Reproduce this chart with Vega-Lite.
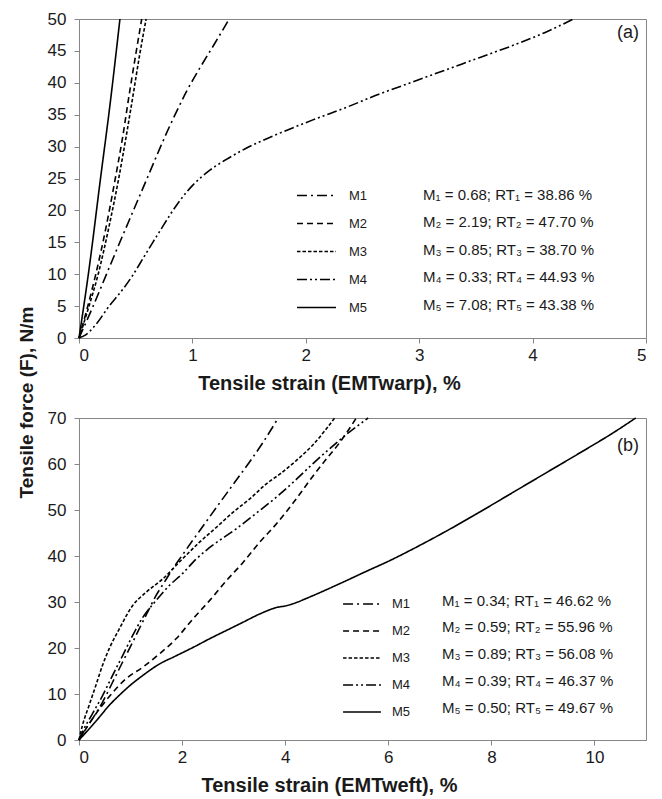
{
  "$schema": "https://vega.github.io/schema/vega-lite/v6.json",
  "background": "white",
  "padding": {"left": 17, "top": 9, "right": 2, "bottom": 0},
  "bounds": "flush",
  "spacing": 80,
  "config": {
    "font": "Liberation Sans",
    "view": {"stroke": "#868686", "strokeWidth": 1},
    "axis": {
      "domainColor": "#868686", "tickColor": "#868686", "tickSize": 5, "labelOverlap": false, "format": "d",
      "labelFont": "Liberation Sans", "labelFontSize": 17, "labelColor": "#1a1a1a",
      "titleFont": "Liberation Sans", "titleFontSize": 20, "titleFontWeight": "bold", "titleColor": "#1a1a1a",
      "grid": false
    },
    "legend": {"labelFont": "Liberation Sans", "labelColor": "#1a1a1a", "labelLimit": 0}
  },
  "title": {"text": "Tensile force (F), N/m", "orient": "left", "anchor": "middle", "fontSize": 19, "fontWeight": "bold", "color": "#1a1a1a", "font": "Liberation Sans", "offset": 10},
  "datasets": {
    "statsA": [
      {"series": "M1", "stat": "M₁ = 0.68; RT₁ = 38.86 %"},
      {"series": "M2", "stat": "M₂ = 2.19; RT₂ = 47.70 %"},
      {"series": "M3", "stat": "M₃ = 0.85; RT₃ = 38.70 %"},
      {"series": "M4", "stat": "M₄ = 0.33; RT₄ = 44.93 %"},
      {"series": "M5", "stat": "M₅ = 7.08; RT₅ = 43.38 %"}
    ],
    "statsB": [
      {"series": "M1", "stat": "M₁ = 0.34; RT₁ = 46.62 %"},
      {"series": "M2", "stat": "M₂ = 0.59; RT₂ = 55.96 %"},
      {"series": "M3", "stat": "M₃ = 0.89; RT₃ = 56.08 %"},
      {"series": "M4", "stat": "M₄ = 0.39; RT₄ = 46.37 %"},
      {"series": "M5", "stat": "M₅ = 0.50; RT₅ = 49.67 %"}
    ],
    "warp": [
      {"series": "M1", "strain": 0, "force": 0},
      {"series": "M1", "strain": 0.12, "force": 4.8},
      {"series": "M1", "strain": 0.24, "force": 9.9},
      {"series": "M1", "strain": 0.36, "force": 15},
      {"series": "M1", "strain": 0.48, "force": 20},
      {"series": "M1", "strain": 0.6, "force": 25},
      {"series": "M1", "strain": 0.71, "force": 29.6},
      {"series": "M1", "strain": 0.784, "force": 32.6},
      {"series": "M1", "strain": 0.858, "force": 35.4},
      {"series": "M1", "strain": 0.947, "force": 38.6},
      {"series": "M1", "strain": 1.065, "force": 42.3},
      {"series": "M1", "strain": 1.198, "force": 46.2},
      {"series": "M1", "strain": 1.325, "force": 50},
      {"series": "M2", "strain": 0, "force": 0},
      {"series": "M2", "strain": 0.07, "force": 4.5},
      {"series": "M2", "strain": 0.148, "force": 10},
      {"series": "M2", "strain": 0.24, "force": 17.5},
      {"series": "M2", "strain": 0.32, "force": 25},
      {"series": "M2", "strain": 0.385, "force": 31.5},
      {"series": "M2", "strain": 0.444, "force": 38.3},
      {"series": "M2", "strain": 0.5, "force": 44.4},
      {"series": "M2", "strain": 0.553, "force": 50},
      {"series": "M3", "strain": 0, "force": 0},
      {"series": "M3", "strain": 0.08, "force": 4.5},
      {"series": "M3", "strain": 0.169, "force": 10},
      {"series": "M3", "strain": 0.265, "force": 17.5},
      {"series": "M3", "strain": 0.35, "force": 25},
      {"series": "M3", "strain": 0.415, "force": 31.5},
      {"series": "M3", "strain": 0.479, "force": 38.3},
      {"series": "M3", "strain": 0.535, "force": 44.4},
      {"series": "M3", "strain": 0.592, "force": 50},
      {"series": "M4", "strain": 0, "force": 0},
      {"series": "M4", "strain": 0.059, "force": 0.5},
      {"series": "M4", "strain": 0.148, "force": 2.1},
      {"series": "M4", "strain": 0.266, "force": 5},
      {"series": "M4", "strain": 0.385, "force": 7.6},
      {"series": "M4", "strain": 0.473, "force": 9.8},
      {"series": "M4", "strain": 0.562, "force": 12.4},
      {"series": "M4", "strain": 0.651, "force": 15},
      {"series": "M4", "strain": 0.725, "force": 17.1},
      {"series": "M4", "strain": 0.799, "force": 19.2},
      {"series": "M4", "strain": 0.888, "force": 21.5},
      {"series": "M4", "strain": 1.006, "force": 24.0},
      {"series": "M4", "strain": 1.154, "force": 26.3},
      {"series": "M4", "strain": 1.3, "force": 28.0},
      {"series": "M4", "strain": 1.47, "force": 29.7},
      {"series": "M4", "strain": 1.763, "force": 32.05},
      {"series": "M4", "strain": 2.057, "force": 34.15},
      {"series": "M4", "strain": 2.35, "force": 36.1},
      {"series": "M4", "strain": 2.644, "force": 38.2},
      {"series": "M4", "strain": 2.937, "force": 40.1},
      {"series": "M4", "strain": 3.231, "force": 42.0},
      {"series": "M4", "strain": 3.524, "force": 43.9},
      {"series": "M4", "strain": 3.818, "force": 45.8},
      {"series": "M4", "strain": 4.111, "force": 47.9},
      {"series": "M4", "strain": 4.36, "force": 50},
      {"series": "M5", "strain": 0, "force": 0},
      {"series": "M5", "strain": 0.09, "force": 11},
      {"series": "M5", "strain": 0.186, "force": 24.5},
      {"series": "M5", "strain": 0.275, "force": 36.8},
      {"series": "M5", "strain": 0.361, "force": 50}
    ],
    "weft": [
      {"series": "M1", "strain": 0, "force": 0},
      {"series": "M1", "strain": 0.065, "force": 1.3},
      {"series": "M1", "strain": 0.26, "force": 4.6},
      {"series": "M1", "strain": 0.455, "force": 8.2},
      {"series": "M1", "strain": 0.649, "force": 12.5},
      {"series": "M1", "strain": 0.844, "force": 16.9},
      {"series": "M1", "strain": 1.039, "force": 21.2},
      {"series": "M1", "strain": 1.201, "force": 24.9},
      {"series": "M1", "strain": 1.331, "force": 27.8},
      {"series": "M1", "strain": 1.494, "force": 31.4},
      {"series": "M1", "strain": 1.656, "force": 34.3},
      {"series": "M1", "strain": 1.818, "force": 37.2},
      {"series": "M1", "strain": 2.0, "force": 40.1},
      {"series": "M1", "strain": 2.2, "force": 43.3},
      {"series": "M1", "strain": 2.4, "force": 46.4},
      {"series": "M1", "strain": 2.662, "force": 50.5},
      {"series": "M1", "strain": 2.987, "force": 55.5},
      {"series": "M1", "strain": 3.312, "force": 60.5},
      {"series": "M1", "strain": 3.571, "force": 64.7},
      {"series": "M1", "strain": 3.864, "force": 70},
      {"series": "M2", "strain": 0, "force": 0},
      {"series": "M2", "strain": 0.065, "force": 1.2},
      {"series": "M2", "strain": 0.26, "force": 4.6},
      {"series": "M2", "strain": 0.584, "force": 9.4},
      {"series": "M2", "strain": 0.909, "force": 13.3},
      {"series": "M2", "strain": 1.234, "force": 15.8},
      {"series": "M2", "strain": 1.558, "force": 18.7},
      {"series": "M2", "strain": 1.883, "force": 22.0},
      {"series": "M2", "strain": 2.208, "force": 26.3},
      {"series": "M2", "strain": 2.532, "force": 30.3},
      {"series": "M2", "strain": 2.857, "force": 34.6},
      {"series": "M2", "strain": 3.182, "force": 38.6},
      {"series": "M2", "strain": 3.506, "force": 43.0},
      {"series": "M2", "strain": 3.831, "force": 47.0},
      {"series": "M2", "strain": 4.22, "force": 52.5},
      {"series": "M2", "strain": 4.5, "force": 56.8},
      {"series": "M2", "strain": 4.8, "force": 61.1},
      {"series": "M2", "strain": 5.06, "force": 64.7},
      {"series": "M2", "strain": 5.38, "force": 70},
      {"series": "M3", "strain": 0, "force": 0},
      {"series": "M3", "strain": 0.065, "force": 3.1},
      {"series": "M3", "strain": 0.195, "force": 7.5},
      {"series": "M3", "strain": 0.325, "force": 11.8},
      {"series": "M3", "strain": 0.455, "force": 16.2},
      {"series": "M3", "strain": 0.584, "force": 19.8},
      {"series": "M3", "strain": 0.779, "force": 24.1},
      {"series": "M3", "strain": 1.039, "force": 29.2},
      {"series": "M3", "strain": 1.299, "force": 32.1},
      {"series": "M3", "strain": 1.623, "force": 35.0},
      {"series": "M3", "strain": 2.0, "force": 39.3},
      {"series": "M3", "strain": 2.338, "force": 43.0},
      {"series": "M3", "strain": 2.662, "force": 46.2},
      {"series": "M3", "strain": 2.987, "force": 49.5},
      {"series": "M3", "strain": 3.312, "force": 52.4},
      {"series": "M3", "strain": 3.636, "force": 55.7},
      {"series": "M3", "strain": 3.896, "force": 57.8},
      {"series": "M3", "strain": 4.22, "force": 60.8},
      {"series": "M3", "strain": 4.54, "force": 64.2},
      {"series": "M3", "strain": 4.96, "force": 70},
      {"series": "M4", "strain": 0, "force": 0},
      {"series": "M4", "strain": 0.065, "force": 1.7},
      {"series": "M4", "strain": 0.26, "force": 5.7},
      {"series": "M4", "strain": 0.455, "force": 9.6},
      {"series": "M4", "strain": 0.649, "force": 14},
      {"series": "M4", "strain": 0.844, "force": 18.3},
      {"series": "M4", "strain": 1.039, "force": 22.7},
      {"series": "M4", "strain": 1.234, "force": 26.6},
      {"series": "M4", "strain": 1.494, "force": 30.3},
      {"series": "M4", "strain": 1.753, "force": 33.6},
      {"series": "M4", "strain": 2.0, "force": 36.1},
      {"series": "M4", "strain": 2.27, "force": 39.3},
      {"series": "M4", "strain": 2.53, "force": 41.8},
      {"series": "M4", "strain": 3.05, "force": 45.9},
      {"series": "M4", "strain": 3.45, "force": 49.4},
      {"series": "M4", "strain": 3.83, "force": 52.8},
      {"series": "M4", "strain": 4.22, "force": 56.7},
      {"series": "M4", "strain": 4.55, "force": 60.2},
      {"series": "M4", "strain": 4.86, "force": 63.3},
      {"series": "M4", "strain": 5.12, "force": 65.8},
      {"series": "M4", "strain": 5.61, "force": 70},
      {"series": "M5", "strain": 0, "force": 0},
      {"series": "M5", "strain": 0.195, "force": 2.4},
      {"series": "M5", "strain": 0.39, "force": 4.9},
      {"series": "M5", "strain": 0.584, "force": 7.5},
      {"series": "M5", "strain": 0.779, "force": 9.7},
      {"series": "M5", "strain": 0.974, "force": 11.7},
      {"series": "M5", "strain": 1.234, "force": 14.0},
      {"series": "M5", "strain": 1.558, "force": 16.5},
      {"series": "M5", "strain": 1.883, "force": 18.3},
      {"series": "M5", "strain": 2.208, "force": 20.1},
      {"series": "M5", "strain": 2.532, "force": 22.0},
      {"series": "M5", "strain": 2.857, "force": 23.8},
      {"series": "M5", "strain": 3.182, "force": 25.6},
      {"series": "M5", "strain": 3.506, "force": 27.4},
      {"series": "M5", "strain": 3.831, "force": 28.8},
      {"series": "M5", "strain": 4.026, "force": 29.2},
      {"series": "M5", "strain": 4.221, "force": 29.9},
      {"series": "M5", "strain": 4.416, "force": 30.8},
      {"series": "M5", "strain": 5.12, "force": 34.3},
      {"series": "M5", "strain": 5.58, "force": 36.7},
      {"series": "M5", "strain": 6.03, "force": 39.0},
      {"series": "M5", "strain": 6.49, "force": 41.6},
      {"series": "M5", "strain": 7.14, "force": 45.5},
      {"series": "M5", "strain": 7.78, "force": 49.6},
      {"series": "M5", "strain": 8.43, "force": 53.9},
      {"series": "M5", "strain": 9.08, "force": 58.2},
      {"series": "M5", "strain": 9.73, "force": 62.5},
      {"series": "M5", "strain": 10.38, "force": 66.9},
      {"series": "M5", "strain": 10.8, "force": 70}
    ]
  },
  "vconcat": [
    {
      "width": 567,
      "height": 319,
      "layer": [
        {
          "data": {"name": "warp"},
          "transform": [{"lookup": "series", "from": {"data": {"name": "statsA"}, "key": "series", "fields": ["stat"]}}],
          "mark": {"type": "line", "interpolate": "monotone", "strokeWidth": 1.6},
          "encoding": {
            "x": {"field": "strain", "type": "quantitative", "scale": {"domain": [0, 5], "nice": false},
                  "axis": {"values": [0, 1, 2, 3, 4, 5], "labelPadding": 4, "title": "Tensile strain (EMTwarp), %", "titleX": 250, "titleY": 35, "titleBaseline": "top", "titleAlign": "center"}},
            "y": {"field": "force", "type": "quantitative", "scale": {"domain": [0, 50], "nice": false},
                  "axis": {"values": [0, 5, 10, 15, 20, 25, 30, 35, 40, 45, 50], "labelPadding": 8, "title": null}},
            "strokeDash": {"field": "series", "type": "nominal",
                  "scale": {"domain": ["M1", "M2", "M3", "M4", "M5"], "range": [[10, 4, 2, 4], [6, 4], [3.5, 2], [10, 3, 2, 3, 2, 3], [1, 0]]},
                  "legend": {"orient": "none", "legendX": 217, "legendY": 156, "title": null, "symbolType": "stroke", "symbolSize": 1524, "symbolStrokeWidth": 1.5, "symbolStrokeColor": "black", "labelFontSize": 13, "labelOffset": 12, "padding": 0, "rowPadding": 0}},
            "color": {"field": "stat", "type": "nominal", "scale": {"range": ["#000000", "#000000", "#000000", "#000000", "#000000"]},
                  "legend": {"orient": "none", "legendX": 329, "legendY": 168, "title": null, "symbolType": "stroke", "symbolSize": 1, "symbolOpacity": 0, "symbolStrokeWidth": 0, "labelFontSize": 15, "labelOffset": 0, "padding": 0, "rowPadding": 11.6}}
          }
        },
        {
          "data": {"values": [{"label": "(a)"}]},
          "mark": {"type": "text", "align": "right", "baseline": "top", "dx": -7, "dy": 5, "fontSize": 18, "font": "Liberation Sans", "color": "#1a1a1a"},
          "encoding": {
            "x": {"datum": 5, "type": "quantitative", "axis": {"values": [0, 1, 2, 3, 4, 5], "labelPadding": 4, "title": "Tensile strain (EMTwarp), %", "titleX": 250, "titleY": 35, "titleBaseline": "top", "titleAlign": "center"}},
            "y": {"datum": 50, "type": "quantitative", "axis": {"values": [0, 5, 10, 15, 20, 25, 30, 35, 40, 45, 50], "labelPadding": 8, "title": null}},
            "text": {"field": "label"}
          }
        }
      ]
    },
    {
      "width": 567,
      "height": 322,
      "layer": [
        {
          "data": {"name": "weft"},
          "transform": [{"lookup": "series", "from": {"data": {"name": "statsB"}, "key": "series", "fields": ["stat"]}}],
          "mark": {"type": "line", "interpolate": "monotone", "strokeWidth": 1.6},
          "encoding": {
            "x": {"field": "strain", "type": "quantitative", "scale": {"domain": [0, 11], "nice": false},
                  "axis": {"values": [0, 2, 4, 6, 8, 10], "labelPadding": 4, "title": "Tensile strain (EMTweft), %", "titleX": 250, "titleY": 35, "titleBaseline": "top", "titleAlign": "center"}},
            "y": {"field": "force", "type": "quantitative", "scale": {"domain": [0, 70], "nice": false},
                  "axis": {"values": [0, 10, 20, 30, 40, 50, 60, 70], "labelPadding": 8, "title": null}},
            "strokeDash": {"field": "series", "type": "nominal",
                  "scale": {"domain": ["M1", "M2", "M3", "M4", "M5"], "range": [[10, 4, 2, 4], [6, 4], [3.5, 2], [10, 3, 2, 3, 2, 3], [1, 0]]},
                  "legend": {"orient": "none", "legendX": 263, "legendY": 166, "title": null, "symbolType": "stroke", "symbolSize": 1436, "symbolStrokeWidth": 1.5, "symbolStrokeColor": "black", "labelFontSize": 13, "labelOffset": 10, "padding": 0, "rowPadding": 0}},
            "color": {"field": "stat", "type": "nominal", "scale": {"range": ["#000000", "#000000", "#000000", "#000000", "#000000"]},
                  "legend": {"orient": "none", "legendX": 348, "legendY": 175, "title": null, "symbolType": "stroke", "symbolSize": 1, "symbolOpacity": 0, "symbolStrokeWidth": 0, "labelFontSize": 15, "labelOffset": 0, "padding": 0, "rowPadding": 10.8}}
          }
        },
        {
          "data": {"values": [{"label": "(b)"}]},
          "mark": {"type": "text", "align": "right", "baseline": "top", "dx": -7, "dy": 19, "fontSize": 18, "font": "Liberation Sans", "color": "#1a1a1a"},
          "encoding": {
            "x": {"datum": 11, "type": "quantitative", "axis": {"values": [0, 2, 4, 6, 8, 10], "labelPadding": 4, "title": "Tensile strain (EMTweft), %", "titleX": 250, "titleY": 35, "titleBaseline": "top", "titleAlign": "center"}},
            "y": {"datum": 70, "type": "quantitative", "axis": {"values": [0, 10, 20, 30, 40, 50, 60, 70], "labelPadding": 8, "title": null}},
            "text": {"field": "label"}
          }
        }
      ]
    }
  ],
  "resolve": {
    "scale": {"x": "independent", "y": "independent", "strokeDash": "independent", "color": "independent"},
    "legend": {"strokeDash": "independent", "color": "independent"}
  }
}
